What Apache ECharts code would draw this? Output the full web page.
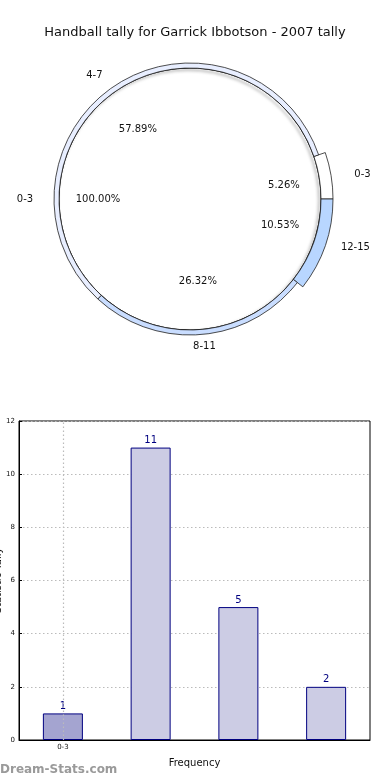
<!DOCTYPE html>
<html>
<head>
<meta charset="utf-8">
<script src="https://cdn.jsdelivr.net/npm/echarts@6/dist/echarts.min.js"></script>
<style>
html,body{margin:0;padding:0;background:#fff;}
#c{width:390px;height:780px;}
</style>
</head>
<body>
<div id="c"></div>
<script>
var titleText = 'Handball tally for Garrick Ibbotson - 2007 tally';
var categories = ['0-3', '4-7', '8-11', '12-15'];
var tallies = [1, 11, 5, 2];
var innerCategories = ['0-3'];
var innerValues = [1];
var ringColors = ['#ffffff', '#e8eeff', '#c9ddff', '#b8d6ff'];
var wideSlices = ['0-3', '12-15'];
var yTicks = [0, 2, 4, 6, 8, 10, 12];
var xAxisName = 'Frequency';
var yAxisName = 'Statistic Tally';
var watermark = 'Dream-Stats.com';

var FONT = 'DejaVu Sans';
var center = [190, 199];
var pctFmt = function (p) { return p.percent.toFixed(2) + '%'; };

// stretch label positions slightly to mimic the elliptical original pie
function ellipseLayout(sx, sy) {
  return function (params) {
    var r = params.labelRect;
    var cx = r.x + r.width / 2, cy = r.y + r.height / 2;
    return {
      x: center[0] + (cx - center[0]) * sx,
      y: center[1] + (cy - center[1]) * sy
    };
  };
}

function ringData(wide) {
  return categories.map(function (c, i) {
    var show = (wideSlices.indexOf(c) >= 0) === wide;
    return {
      name: c, value: tallies[i],
      itemStyle: show ? { color: ringColors[i], borderColor: '#222', borderWidth: 0.8 }
                      : { color: 'transparent', borderWidth: 0 }
    };
  });
}
var innerData = innerCategories.map(function (c, i) { return { name: c, value: innerValues[i] }; });
var ringAll = categories.map(function (c, i) { return { name: c, value: tallies[i] }; });

var basePie = {
  type: 'pie', center: center, startAngle: 0, clockwise: false,
  avoidLabelOverlap: false, labelLine: { show: false }, animation: false
};
function pie(o) { return Object.assign({}, basePie, o); }
var transparentItem = { color: 'transparent', borderWidth: 0 };
var labelBase = { show: true, position: 'inside', fontFamily: FONT, fontSize: 10, color: '#111', align: 'center', verticalAlign: 'middle' };

var option = {
  animation: false,
  backgroundColor: '#ffffff',
  title: {
    text: titleText, left: 'center', top: 21,
    textStyle: { fontFamily: FONT, fontSize: 13, fontWeight: 'normal', color: '#111' }
  },
  graphic: [{
    type: 'text', left: 0, top: 764,
    style: { text: watermark, font: 'bold 12px "DejaVu Sans"', fill: '#9a9a9a' }
  }],
  grid: {
    left: 19, right: 20, top: 421, bottom: 40,
    containLabel: false, outerBoundsMode: 'none',
    show: true, borderColor: '#000', borderWidth: 1, backgroundColor: 'transparent'
  },
  xAxis: {
    type: 'category', data: categories,
    name: xAxisName, nameLocation: 'middle', nameGap: 18,
    nameTextStyle: { fontFamily: FONT, fontSize: 10, color: '#111' },
    axisLine: { show: true, lineStyle: { color: '#000' } },
    axisTick: { show: false },
    axisLabel: {
      fontFamily: FONT, fontSize: 7, color: '#111', margin: 4,
      formatter: function (v, i) { return i === 0 ? v : ''; }
    }
  },
  yAxis: {
    type: 'value', min: yTicks[0], max: yTicks[yTicks.length - 1], interval: 2,
    name: yAxisName, nameLocation: 'middle', nameGap: 16, nameMoveOverlap: false,
    nameTextStyle: { fontFamily: FONT, fontSize: 10, color: '#111' },
    axisLine: { show: true, lineStyle: { color: '#000' } },
    axisTick: { show: true, length: 3, inside: true, lineStyle: { color: '#000' } },
    axisLabel: { fontFamily: FONT, fontSize: 7, color: '#111', margin: 4 },
    splitLine: { show: true, lineStyle: { color: '#bbbbbb', type: [1.5, 2.5], width: 1.2 } }
  },
  series: [
    pie({
      name: 'inner', radius: [0, 131], data: innerData,
      itemStyle: { color: '#ffffff', borderColor: '#111', borderWidth: 1,
        shadowColor: 'rgba(0,0,0,0.55)', shadowBlur: 3, shadowOffsetX: -2, shadowOffsetY: 2 },
      label: { show: false }, silent: true, z: 1
    }),
    pie({ name: 'ringWide', radius: [131, 143], data: ringData(true), label: { show: false }, silent: true, z: 2 }),
    pie({ name: 'ringThin', radius: [131, 136], data: ringData(false), label: { show: false }, silent: true, z: 2 }),
    pie({
      name: 'innerPct', radius: [60, 118], data: innerData, silent: true, z: 5,
      itemStyle: transparentItem,
      label: Object.assign({}, labelBase, { formatter: pctFmt })
    }),
    pie({
      name: 'innerName', radius: [144, 180], data: innerData, silent: true, z: 5,
      itemStyle: transparentItem,
      label: Object.assign({}, labelBase, { formatter: '{b}' })
    }),
    pie({
      name: 'ringPct', radius: [66, 106], data: ringAll, silent: true, z: 5,
      itemStyle: transparentItem,
      label: Object.assign({}, labelBase, { formatter: pctFmt }),
      labelLayout: ellipseLayout(1.07, 0.93)
    }),
    pie({
      name: 'ringName', radius: [140, 172], data: ringAll, silent: true, z: 5,
      itemStyle: transparentItem,
      label: Object.assign({}, labelBase, { formatter: '{b}' }),
      labelLayout: ellipseLayout(1.1, 0.93)
    }),
    {
      type: 'bar', barWidth: 40,
      data: tallies.map(function (v, i) {
        return i === 0 ? { value: v, itemStyle: { color: '#a4a4d0' } } : v;
      }),
      itemStyle: { color: '#ccccE4', borderColor: '#000080', borderWidth: 1 },
      label: { show: true, position: 'top', distance: 2, fontFamily: FONT, fontSize: 10, color: '#000080' },
      markLine: {
        silent: true, symbol: 'none', label: { show: false },
        lineStyle: { color: '#bbbbbb', type: [1.5, 2.5], width: 1.2 },
        data: [{ xAxis: categories[0] }]
      },
      z: 3
    }
  ]
};
var chart = echarts.init(document.getElementById('c'), null, { renderer: 'canvas' });
chart.setOption(option);
</script>
</body>
</html>
